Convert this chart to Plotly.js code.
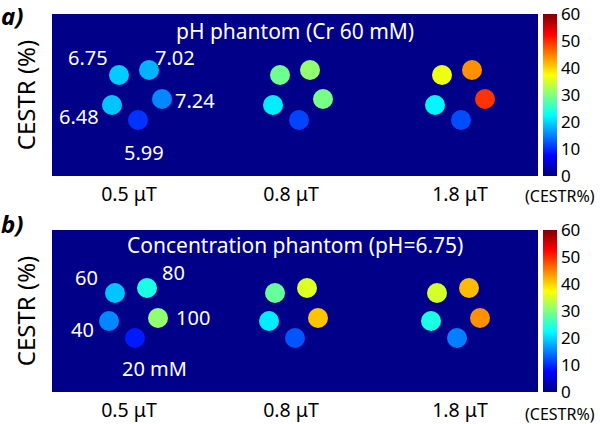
<!DOCTYPE html>
<html>
<head>
<meta charset="utf-8">
<script src="https://cdn.plot.ly/plotly-3.0.1.min.js"></script>
<style>
  body { margin: 0; background: #fff; }
  #plot { width: 600px; height: 424px; }
</style>
</head>
<body>
<div id="plot"></div>
<script>
// B1 saturation levels (one sub-image each)
const b1Labels = ['0.5 μT', '0.8 μT', '1.8 μT'];

// pH phantom tubes (Cr 60 mM)
const phLabels = ['6.75', '7.02', '6.48', '7.24', '5.99'];
const cestrPH = [
  [19.5, 18, 19, 15.5, 10.5],   // 0.5 uT
  [29, 31, 21.5, 29.5, 11.5],   // 0.8 uT
  [36.5, 44, 22, 49.5, 12]      // 1.8 uT
];

// concentration phantom tubes (pH 6.75)
const concLabels = ['60', '80', '40', '100', '20 mM'];
const cestrConc = [
  [19, 24, 15.5, 31, 9],
  [28.5, 35.5, 21.5, 41, 12.5],
  [35, 41.5, 24, 44, 15]
];

// tube layout inside each image (image pixels, relative to image centre)
const phTubeX = [-18, 12, -25, 25, 1];
const phTubeY = [-20, -25, 10, 4, 25];
const concTubeX = [-21, 11, -27, 22, -1];
const concTubeY = [-18, -23, 10, 7, 27];
const phCentres = [85, 246, 408];
const concCentres = [84, 244, 406];

const font = 'Noto Sans, Open Sans, sans-serif';

// MATLAB jet
const jet = [
  [0, '#00007F'], [0.125, '#0000FF'], [0.375, '#00FFFF'],
  [0.625, '#FFFF00'], [0.875, '#FF0000'], [1, '#7F0000']
];

function tubeTraces(values, centres, dx, dy, xa, ya, cax) {
  return values.map((vals, g) => ({
    type: 'scatter',
    mode: 'markers',
    x: dx.map(d => centres[g] + d),
    y: dy.map(d => 81 + d),
    xaxis: xa,
    yaxis: ya,
    hoverinfo: 'skip',
    showlegend: false,
    marker: { symbol: 'circle', size: 20, color: vals, coloraxis: cax, line: { width: 0 } }
  }));
}

const data = [].concat(
  tubeTraces(cestrPH, phCentres, phTubeX, phTubeY, 'x', 'y', 'coloraxis'),
  tubeTraces(cestrConc, concCentres, concTubeX, concTubeY, 'x2', 'y2', 'coloraxis2')
);

function xAxis(anchor) {
  return {
    anchor: anchor, domain: [0, 1], range: [0, 486],
    showgrid: false, zeroline: false, showline: false,
    tickvals: [77, 239, 408], ticktext: b1Labels,
    ticks: 'outside', ticklen: 1, tickcolor: 'rgba(0,0,0,0)',
    tickfont: { family: font, size: 19.5, color: '#000' }, fixedrange: true
  };
}
function yAxis(anchor, domain) {
  return {
    anchor: anchor, domain: domain, range: [162, 0],
    showgrid: false, zeroline: false, showline: false, showticklabels: false,
    title: { text: 'CESTR (%)', font: { family: font, size: 24, color: '#000' }, standoff: 8 },
    fixedrange: true
  };
}
function cbar(yc) {
  return {
    cmin: 0, cmax: 60, colorscale: jet,
    colorbar: {
      x: 1.0103, xanchor: 'left', xpad: 0, y: yc, yanchor: 'middle', ypad: 0,
      len: 0.4286, lenmode: 'fraction', thickness: 14, outlinewidth: 0,
      tickvals: [0, 10, 20, 30, 40, 50, 60], ticks: '',
      tickfont: { family: font, size: 17, color: '#000' }
    }
  };
}

const wt = { family: font, size: 20, color: '#fff' };
const titleFont = { family: font, size: 21, color: '#fff' };
const blk = { family: font, size: 16, color: '#000' };
function label(text, x, y, xr, yr, f) {
  return { text: text, x: x, y: y, xref: xr, yref: yr, showarrow: false,
           xanchor: 'center', yanchor: 'middle', font: f || wt };
}

const annotations = [
  label('pH phantom (Cr 60 mM)', 243, 17, 'x', 'y', titleFont),
  label(phLabels[0], 36, 43, 'x', 'y'),
  label(phLabels[1], 123, 43, 'x', 'y'),
  label(phLabels[2], 27, 102, 'x', 'y'),
  label(phLabels[3], 143, 86, 'x', 'y'),
  label(phLabels[4], 92, 138, 'x', 'y'),
  label('Concentration phantom (pH=6.75)', 243, 15, 'x2', 'y2', titleFont),
  label(concLabels[0], 34, 48, 'x2', 'y2'),
  label(concLabels[1], 121, 43, 'x2', 'y2'),
  label(concLabels[2], 30, 100, 'x2', 'y2'),
  label(concLabels[3], 141, 88, 'x2', 'y2'),
  label(concLabels[4], 102, 139, 'x2', 'y2'),
  label('(CESTR%)', 1.045, 0.5185, 'paper', 'paper', blk),
  label('(CESTR%)', 1.045, -0.0595, 'paper', 'paper', blk),
  label('<b><i>a)</i></b>', -0.083, 0.995, 'paper', 'paper', { family: font, size: 24, color: '#000' }),
  label('<b><i>b)</i></b>', -0.083, 0.445, 'paper', 'paper', { family: font, size: 24, color: '#000' })
];

const layout = {
  width: 600, height: 424,
  margin: { l: 52, r: 62, t: 14, b: 32 },
  paper_bgcolor: '#fff',
  plot_bgcolor: '#000089',
  xaxis: xAxis('y'),
  yaxis: yAxis('x', [0.5714, 1]),
  xaxis2: xAxis('y2'),
  yaxis2: yAxis('x2', [0, 0.4286]),
  coloraxis: cbar(0.7857),
  coloraxis2: cbar(0.2143),
  annotations: annotations,
  showlegend: false
};

Plotly.newPlot('plot', data, layout, { displayModeBar: false, staticPlot: true });
</script>
</body>
</html>
